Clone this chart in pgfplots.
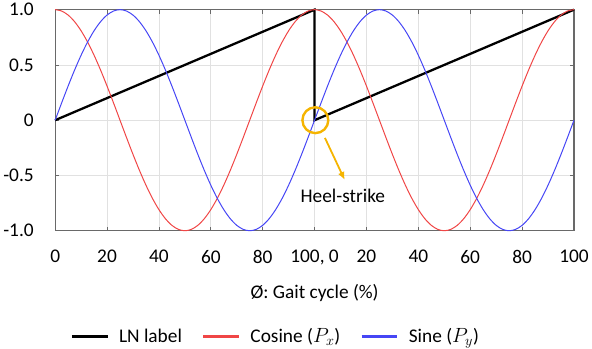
\documentclass[border=0pt]{standalone}
\usepackage{fontspec}
\setmainfont{Carlito}
\usepackage{pgfplots}
\usepackage{pgfplotstable}
\usetikzlibrary{arrows.meta}
\pgfplotsset{compat=1.18}
\definecolor{ringc}{RGB}{245,180,0}
\definecolor{gridc}{RGB}{225,225,225}
\definecolor{axc}{RGB}{105,105,105}
\definecolor{cosc}{RGB}{240,70,70}
\definecolor{sinc}{RGB}{70,70,245}
\newcommand{\fs}{\fontsize{19.5}{23}\selectfont}
\pgfplotstableread{
x sin cos
0 0 1
2.5 0.1564 0.9877
5 0.3090 0.9511
7.5 0.4540 0.8910
10 0.5878 0.8090
12.5 0.7071 0.7071
15 0.8090 0.5878
17.5 0.8910 0.4540
20 0.9511 0.3090
22.5 0.9877 0.1564
25 1 0
27.5 0.9877 -0.1564
30 0.9511 -0.3090
32.5 0.8910 -0.4540
35 0.8090 -0.5878
37.5 0.7071 -0.7071
40 0.5878 -0.8090
42.5 0.4540 -0.8910
45 0.3090 -0.9511
47.5 0.1564 -0.9877
50 0 -1
52.5 -0.1564 -0.9877
55 -0.3090 -0.9511
57.5 -0.4540 -0.8910
60 -0.5878 -0.8090
62.5 -0.7071 -0.7071
65 -0.8090 -0.5878
67.5 -0.8910 -0.4540
70 -0.9511 -0.3090
72.5 -0.9877 -0.1564
75 -1 0
77.5 -0.9877 0.1564
80 -0.9511 0.3090
82.5 -0.8910 0.4540
85 -0.8090 0.5878
87.5 -0.7071 0.7071
90 -0.5878 0.8090
92.5 -0.4540 0.8910
95 -0.3090 0.9511
97.5 -0.1564 0.9877
100 0 1
102.5 0.1564 0.9877
105 0.3090 0.9511
107.5 0.4540 0.8910
110 0.5878 0.8090
112.5 0.7071 0.7071
115 0.8090 0.5878
117.5 0.8910 0.4540
120 0.9511 0.3090
122.5 0.9877 0.1564
125 1 0
127.5 0.9877 -0.1564
130 0.9511 -0.3090
132.5 0.8910 -0.4540
135 0.8090 -0.5878
137.5 0.7071 -0.7071
140 0.5878 -0.8090
142.5 0.4540 -0.8910
145 0.3090 -0.9511
147.5 0.1564 -0.9877
150 0 -1
152.5 -0.1564 -0.9877
155 -0.3090 -0.9511
157.5 -0.4540 -0.8910
160 -0.5878 -0.8090
162.5 -0.7071 -0.7071
165 -0.8090 -0.5878
167.5 -0.8910 -0.4540
170 -0.9511 -0.3090
172.5 -0.9877 -0.1564
175 -1 0
177.5 -0.9877 0.1564
180 -0.9511 0.3090
182.5 -0.8910 0.4540
185 -0.8090 0.5878
187.5 -0.7071 0.7071
190 -0.5878 0.8090
192.5 -0.4540 0.8910
195 -0.3090 0.9511
197.5 -0.1564 0.9877
200 0 1
}\trigdata
\pgfplotstableread{
x y
0 0
100 1
100 0
200 1
}\lndata
\begin{document}
\begin{tikzpicture}
\begin{axis}[
  scale only axis,
  width=521bp, height=222bp,
  xmin=0, xmax=200, ymin=-1, ymax=1,
  xtick={0,20,...,200},
  xticklabels={0,20,40,60,80,{100, 0},20,40,60,80,100},
  ytick={-1,-0.5,0,0.5,1},
  yticklabels={-1.0,-0.5,0,0.5,1.0},
  tick label style={font=\fs},
  xticklabel style={yshift=-16bp},
  yticklabel style={xshift=-18bp},
  xlabel={Ø: Gait cycle (\%)},
  xlabel style={font=\fs, yshift=-12bp},
  grid=major,
  major grid style={gridc, line width=0.8bp},
  axis line style={axc, line width=1.1bp},
  major tick style={axc, line width=0.8bp},
  tick align=inside,
  major tick length=4bp,
  legend columns=3,
  legend style={draw=none, at={(0.425,-0.478)}, anchor=center,
    font=\fs,
    /tikz/every odd column/.append style={column sep=8bp},
    /tikz/every even column/.append style={column sep=18bp}},
  legend image code/.code={\draw[#1,line width=2.8bp] (0bp,0bp) -- (36bp,0bp);},
  clip=false,
]
\addplot[black, line width=2.3bp] table[x=x,y=y]{\lndata};
\addlegendentry{LN label}
\addplot[cosc, line width=1bp, smooth] table[x=x,y=cos]{\trigdata};
\addlegendentry{Cosine ($P_x$)}
\addplot[sinc, line width=1bp, smooth] table[x=x,y=sin]{\trigdata};
\addlegendentry{Sine ($P_y$)}
\draw[ringc, line width=2.4bp] (axis cs:100.3,0.0) circle[radius=13bp];
\draw[ringc, line width=1.8bp, -{Latex[length=8bp,width=7bp]}] (axis cs:104.0,-0.16) -- (axis cs:111.6,-0.54);
\node[font=\fs] at (axis cs:110.9,-0.685) {Heel-strike};
\end{axis}
\end{tikzpicture}
\end{document}
